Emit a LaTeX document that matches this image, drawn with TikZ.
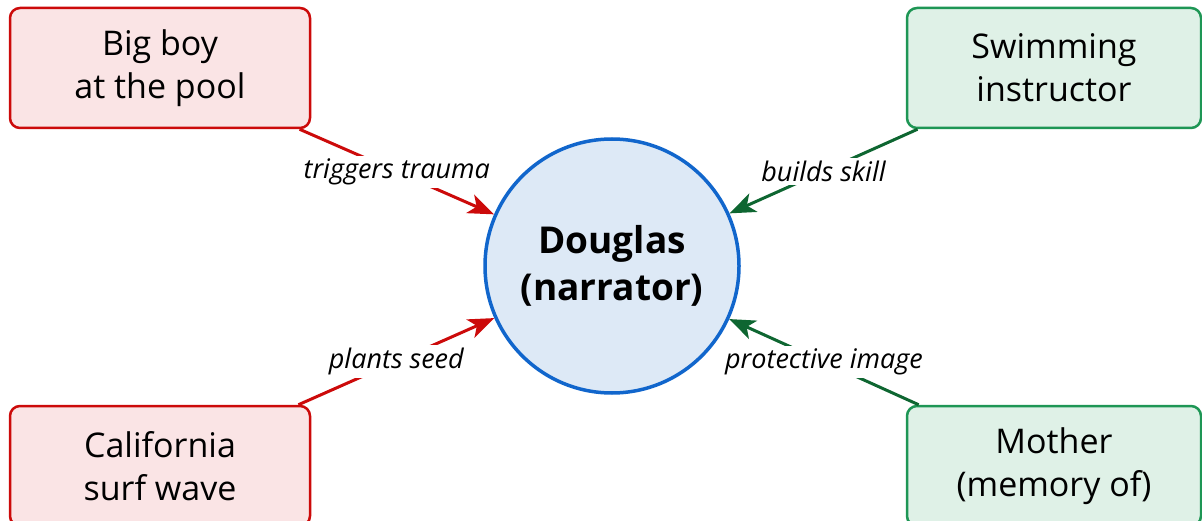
\documentclass[tikz,border=0pt]{standalone}
\usepackage{fontspec}
\setmainfont{Open Sans}
\usetikzlibrary{arrows.meta}
\definecolor{redline}{HTML}{CC0A0A}
\definecolor{redfill}{HTML}{FAE4E5}
\definecolor{greenline}{HTML}{1E9655}
\definecolor{greenfill}{HTML}{DFF1E7}
\definecolor{greenarrow}{HTML}{0E6631}
\definecolor{bluefill}{HTML}{DDE9F6}
\definecolor{blueline}{HTML}{1166CC}
\tikzset{
  box/.style={rounded corners=10pt, line width=2.5pt, minimum height=120pt,
    align=center, font=\fontsize{34}{43}\selectfont, inner sep=0pt},
  redbox/.style={box, draw=redline, fill=redfill, minimum width=300pt},
  greenbox/.style={box, draw=greenline, fill=greenfill, minimum width=294pt},
  center/.style={circle, draw=blueline, fill=bluefill, line width=3.5pt,
    minimum size=254pt, align=center, inner sep=0pt,
    font=\fontsize{37}{47}\selectfont\bfseries},
  link/.style={line width=3pt, -{Stealth[length=26pt,width=20pt,inset=7pt]}},
  lab/.style={fill=white, inner sep=3pt, font=\fontsize{27}{30}\selectfont\itshape}
}
\begin{document}
\begin{tikzpicture}[x=1pt,y=-1pt]
\useasboundingbox (0,0) rectangle (1202,521);
\node[center] (d) at (612,266) {Douglas\\(narrator)};
\node[redbox] (b) at (160,68) {Big boy\\at the pool};
\node[redbox] (c) at (160,466) {California\\surf wave};
\node[greenbox] (s) at (1054,68) {Swimming\\instructor};
\node[greenbox] (m) at (1054,466) {Mother\\(memory of)};
\draw[link, redline] (b) -- node[lab, text=black] {triggers trauma} (d);
\draw[link, redline] (c) -- node[lab, text=black] {plants seed} (d);
\draw[link, greenarrow] (s) -- node[lab, text=black] {builds skill} (d);
\draw[link, greenarrow] (m) -- node[lab, text=black] {protective image} (d);
\end{tikzpicture}
\end{document}
